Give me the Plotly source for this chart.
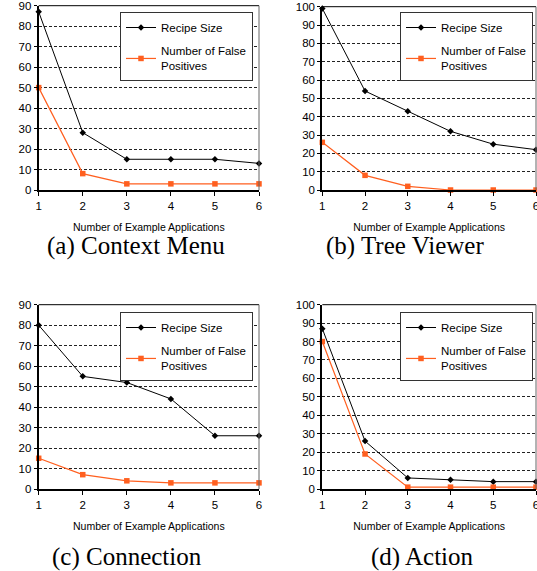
import plotly.graph_objects as go

apps = [1, 2, 3, 4, 5, 6]

recipe_a = [87, 28, 15, 15, 15, 13]
fp_a = [50, 8, 3, 3, 3, 3]
recipe_b = [99, 54, 43, 32, 25, 22]
fp_b = [26, 8, 2, 0, 0, 0]
recipe_c = [80, 55, 52, 44, 26, 26]
fp_c = [15, 7, 4, 3, 3, 3]
recipe_d = [87, 26, 6, 5, 4, 4]
fp_d = [80, 19, 1, 1, 1, 1]

captions = ["(a) Context Menu", "(b) Tree Viewer", "(c) Connection", "(d) Action"]
ymax = [90, 100, 90, 100]
xtitle = "Number of Example Applications"
name_recipe = "Recipe Size"
name_fp = "Number of False<br>Positives"

W, H = 537, 571
def px(x):
    return x / W
def py(y):
    return (H - y) / H

panels = [
    dict(recipe=recipe_a, fp=fp_a, xd=[px(38.7), px(259)], yd=[py(190), py(5.7)], leg=(253, 12), cap=(136, 246)),
    dict(recipe=recipe_b, fp=fp_b, xd=[px(322.3), px(536)], yd=[py(190), py(6.7)], leg=(533, 12), cap=(405, 246)),
    dict(recipe=recipe_c, fp=fp_c, xd=[px(38.7), px(259)], yd=[py(489), py(304.7)], leg=(253, 312), cap=(127, 557)),
    dict(recipe=recipe_d, fp=fp_d, xd=[px(322.3), px(536)], yd=[py(489), py(304.7)], leg=(533, 312), cap=(422, 557)),
]

fig = go.Figure()
BLACK = "#000000"
ORANGE = "#FF5F1F"
FONT = "Liberation Sans, Arial, sans-serif"

layout = dict(
    width=W, height=H, margin=dict(l=0, r=0, t=0, b=0, autoexpand=False),
    paper_bgcolor="white", plot_bgcolor="white",
    font=dict(family=FONT, size=11, color="black"),
    annotations=[], shapes=[],
)

for i, p in enumerate(panels):
    k = i + 1
    xa = "x" if k == 1 else f"x{k}"
    ya = "y" if k == 1 else f"y{k}"
    lg = "legend" if k == 1 else f"legend{k}"
    fig.add_trace(go.Scatter(
        x=apps, y=p["recipe"], mode="lines+markers", name=name_recipe,
        line=dict(color=BLACK, width=1), marker=dict(symbol="diamond", size=5, color=BLACK),
        xaxis=xa, yaxis=ya, legend=lg, legendgroup=f"r{k}", cliponaxis=False,
    ))
    fig.add_trace(go.Scatter(
        x=apps, y=p["fp"], mode="lines+markers", name=name_fp,
        line=dict(color=ORANGE, width=1.2), marker=dict(symbol="square", size=5.5, color=ORANGE),
        xaxis=xa, yaxis=ya, legend=lg, legendgroup=f"f{k}", cliponaxis=False,
    ))
    xkey = "xaxis" if k == 1 else f"xaxis{k}"
    ykey = "yaxis" if k == 1 else f"yaxis{k}"
    layout[xkey] = dict(
        domain=p["xd"], anchor=ya, range=[1, 6], tickvals=apps, showgrid=False,
        showline=True, linecolor="black", linewidth=1.5, ticks="outside", ticklen=4,
        tickcolor="black", zeroline=False, tickfont=dict(size=11.5), automargin=False,
        ticklabeloverflow="allow",
        title=dict(text=xtitle, font=dict(size=10.5), standoff=13),
    )
    layout[ykey] = dict(
        domain=p["yd"], anchor=xa, range=[0, ymax[i]], dtick=10, showgrid=True,
        gridcolor="#222222", gridwidth=1, griddash="3px,2px",
        showline=True, linecolor="black", linewidth=2, ticks="outside", ticklen=3,
        tickcolor="black", zeroline=False, tickfont=dict(size=11.5), automargin=False,
        ticklabeloverflow="allow",
    )
    layout[lg] = dict(
        x=px(p["leg"][0]), y=py(p["leg"][1]), xanchor="right", yanchor="top",
        xref="paper", yref="paper",
        bgcolor="white", bordercolor="#333333", borderwidth=1,
        font=dict(size=11.5, color="black"), traceorder="grouped", tracegroupgap=5,
        itemwidth=30,
    )
    layout["shapes"].append(dict(type="line", xref=f"{xa} domain", yref=f"{ya} domain",
                                 x0=0, x1=1, y0=1, y1=1, line=dict(color="black", width=1)))
    layout["shapes"].append(dict(type="line", xref=f"{xa} domain", yref=f"{ya} domain",
                                 x0=1, x1=1, y0=0, y1=1, line=dict(color="#666666", width=1)))
    layout["annotations"].append(dict(
        text=captions[i], xref="paper", yref="paper",
        x=px(p["cap"][0]), y=py(p["cap"][1]), xanchor="center", yanchor="middle",
        showarrow=False, font=dict(family="Liberation Serif, serif", size=25, color="black"),
    ))

fig.update_layout(**layout)
fig.write_html("out.html", config={"displayModeBar": False},
               post_script="document.body.style.margin='0px';")
